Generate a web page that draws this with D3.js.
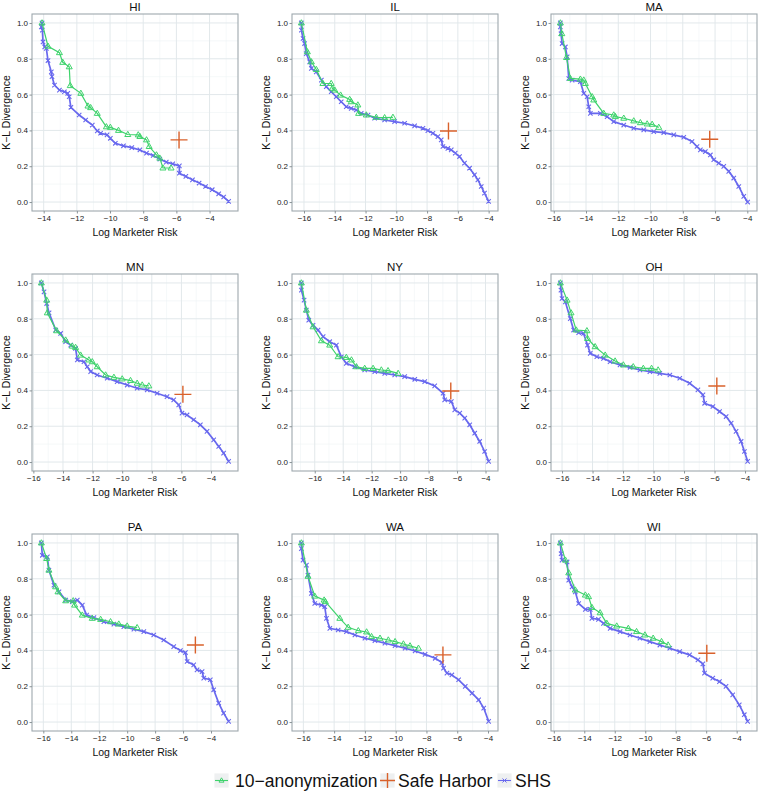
<!DOCTYPE html>
<html>
<head>
<meta charset="utf-8">
<script src="https://cdn.jsdelivr.net/npm/d3@7"></script>
<style>
  html, body { margin: 0; padding: 0; background: #fff; }
  svg { display: block; font-family: "Liberation Sans", Arial, Helvetica, sans-serif; }
</style>
</head>
<body>
<svg id="chart" width="758" height="793"></svg>
<script>
// ---------------- DATA ----------------
const states = ["HI", "IL", "MA", "MN", "NY", "OH", "PA", "WA", "WI"];
const seriesNames = ["10\u2212anonymization", "Safe Harbor", "SHS"];
const yTicks = [0.0, 0.2, 0.4, 0.6, 0.8, 1.0];

// Safe Harbor point per state (log marketer risk, K-L divergence)
const safeHarborX = [-5.84, -6.61, -6.33, -5.9, -6.44, -5.85, -5.12, -6.93, -5.96];
const safeHarborY = [0.347, 0.397, 0.351, 0.378, 0.397, 0.425, 0.43, 0.375, 0.384];

// 10-anonymization curves
const anonHI = [[-14.1,1.0],[-13.74,0.87],[-13.05,0.834],[-12.85,0.78],[-12.46,0.755],[-12.4,0.65],[-11.76,0.607],[-11.33,0.536],[-11.17,0.527],[-10.77,0.495],[-10.22,0.42],[-9.98,0.417],[-9.49,0.40],[-8.93,0.377],[-8.3,0.375],[-8.2,0.366],[-7.8,0.347],[-7.64,0.31],[-7.2,0.263],[-7.0,0.245],[-6.81,0.19],[-6.32,0.19]];
const anonIL = [[-16.17,1.0],[-15.78,0.839],[-15.52,0.783],[-15.2,0.74],[-14.77,0.662],[-14.23,0.662],[-14.16,0.635],[-14.0,0.625],[-13.62,0.597],[-13.03,0.573],[-12.93,0.56],[-12.5,0.542],[-12.45,0.495],[-11.95,0.486],[-11.3,0.473],[-10.76,0.471],[-10.22,0.473]];
const anonMA = [[-15.59,1.0],[-15.5,0.94],[-15.21,0.807],[-14.97,0.69],[-14.35,0.686],[-14.14,0.681],[-14.04,0.662],[-13.62,0.588],[-13.52,0.57],[-12.9,0.495],[-12.28,0.486],[-12.18,0.477],[-11.66,0.468],[-11.04,0.453],[-10.63,0.443],[-10.21,0.436],[-9.9,0.434],[-9.49,0.417]];
const anonMN = [[-15.46,1.0],[-15.1,0.904],[-15.06,0.833],[-14.43,0.733],[-13.82,0.681],[-13.37,0.647],[-13.15,0.64],[-12.81,0.597],[-12.25,0.57],[-12.02,0.56],[-11.69,0.532],[-11.12,0.486],[-10.56,0.473],[-10.0,0.464],[-9.44,0.455],[-8.99,0.44],[-8.65,0.43],[-8.2,0.425]];
const anonNY = [[-16.94,1.0],[-16.59,0.848],[-16.12,0.755],[-15.53,0.677],[-14.95,0.653],[-14.36,0.588],[-13.78,0.584],[-13.42,0.57],[-13.07,0.532],[-12.49,0.523],[-11.9,0.523],[-11.32,0.514],[-10.85,0.51],[-10.14,0.495]];
const anonOH = [[-16.11,1.0],[-15.67,0.904],[-15.41,0.833],[-15.07,0.737],[-14.37,0.733],[-14.33,0.69],[-13.83,0.644],[-13.17,0.597],[-12.52,0.564],[-11.98,0.542],[-11.33,0.532],[-10.67,0.523],[-10.13,0.523],[-9.7,0.514]];
const anonPA = [[-16.14,1.0],[-15.76,0.913],[-15.6,0.848],[-15.12,0.755],[-14.95,0.727],[-14.4,0.677],[-13.86,0.677],[-13.76,0.653],[-13.21,0.597],[-12.5,0.579],[-11.9,0.573],[-11.19,0.56],[-10.6,0.547],[-10.0,0.536],[-9.29,0.527]];
const anonWA = [[-16.13,1.0],[-15.7,0.814],[-15.26,0.703],[-14.65,0.681],[-14.57,0.672],[-13.63,0.579],[-13.09,0.529],[-12.43,0.51],[-11.89,0.503],[-11.57,0.477],[-11.02,0.468],[-10.48,0.458],[-10.04,0.449],[-9.5,0.436],[-9.07,0.425],[-8.52,0.412]];
const anonWI = [[-15.57,1.0],[-15.24,0.904],[-15.02,0.833],[-14.59,0.737],[-13.93,0.709],[-13.72,0.70],[-13.5,0.64],[-12.96,0.61],[-12.52,0.551],[-11.87,0.536],[-11.11,0.523],[-10.57,0.505],[-10.02,0.486],[-9.48,0.468],[-8.93,0.449],[-8.5,0.43]];

// SHS curves
const shsHI = [[-14.1,1.0],[-14.14,0.978],[-14.08,0.96],[-14.04,0.894],[-13.94,0.866],[-13.84,0.858],[-13.74,0.79],[-13.54,0.727],[-13.5,0.70],[-13.35,0.653],[-13.05,0.625],[-12.75,0.616],[-12.55,0.607],[-12.46,0.588],[-12.36,0.529],[-11.86,0.486],[-11.47,0.458],[-11.07,0.43],[-10.77,0.397],[-10.57,0.384],[-10.18,0.375],[-9.98,0.356],[-9.68,0.328],[-9.19,0.314],[-8.69,0.304],[-8.2,0.291],[-7.8,0.273],[-7.4,0.26],[-7.0,0.24],[-6.61,0.223],[-6.22,0.213],[-5.82,0.202],[-5.82,0.161],[-5.43,0.143],[-5.03,0.124],[-4.63,0.106],[-4.24,0.087],[-3.84,0.069],[-3.45,0.046],[-3.15,0.028],[-2.85,0.004]];
const shsIL = [[-16.17,1.0],[-16.17,0.96],[-16.06,0.913],[-15.96,0.885],[-15.85,0.829],[-15.63,0.783],[-15.52,0.746],[-15.2,0.727],[-14.87,0.681],[-14.55,0.644],[-14.23,0.616],[-13.9,0.588],[-13.58,0.56],[-13.25,0.532],[-12.93,0.523],[-12.6,0.514],[-12.28,0.495],[-11.84,0.486],[-11.41,0.468],[-10.76,0.458],[-10.11,0.449],[-9.46,0.44],[-8.81,0.425],[-8.27,0.412],[-7.95,0.399],[-7.62,0.384],[-7.3,0.365],[-7.08,0.347],[-6.97,0.31],[-6.65,0.30],[-6.43,0.291],[-6.17,0.273],[-5.89,0.254],[-5.57,0.217],[-5.24,0.189],[-4.92,0.152],[-4.7,0.124],[-4.48,0.087],[-4.27,0.05],[-4.0,0.004]];
const shsMA = [[-15.59,1.0],[-15.59,0.978],[-15.55,0.94],[-15.48,0.885],[-15.28,0.866],[-15.17,0.811],[-15.07,0.69],[-14.86,0.681],[-14.35,0.672],[-14.14,0.607],[-13.93,0.588],[-13.83,0.532],[-13.73,0.495],[-13.11,0.495],[-12.69,0.477],[-12.28,0.449],[-11.66,0.43],[-11.04,0.412],[-10.42,0.403],[-9.8,0.393],[-9.18,0.388],[-8.56,0.375],[-7.94,0.362],[-7.43,0.338],[-7.12,0.31],[-6.91,0.291],[-6.6,0.282],[-6.29,0.263],[-6.08,0.236],[-5.77,0.217],[-5.46,0.199],[-5.15,0.171],[-4.84,0.134],[-4.53,0.087],[-4.22,0.032],[-3.98,0.0]];
const shsMN = [[-15.46,1.0],[-15.28,0.95],[-15.1,0.885],[-14.94,0.833],[-14.49,0.737],[-14.16,0.718],[-13.82,0.672],[-13.48,0.653],[-13.15,0.635],[-13.03,0.57],[-12.58,0.56],[-12.36,0.532],[-12.13,0.505],[-11.69,0.486],[-11.01,0.468],[-10.34,0.449],[-9.66,0.43],[-8.99,0.412],[-8.31,0.403],[-7.64,0.384],[-6.97,0.365],[-6.52,0.347],[-6.18,0.319],[-5.96,0.273],[-5.62,0.263],[-5.17,0.236],[-4.72,0.208],[-4.27,0.171],[-3.82,0.124],[-3.48,0.087],[-3.15,0.05],[-2.81,0.004]];
const shsNY = [[-16.94,1.0],[-16.94,0.96],[-16.75,0.904],[-16.59,0.848],[-16.42,0.792],[-16.12,0.764],[-15.77,0.737],[-15.41,0.70],[-14.95,0.672],[-14.48,0.653],[-14.13,0.588],[-13.78,0.551],[-13.19,0.532],[-12.49,0.514],[-11.78,0.505],[-11.08,0.495],[-10.38,0.486],[-9.68,0.477],[-8.97,0.462],[-8.27,0.449],[-7.57,0.425],[-6.98,0.384],[-6.87,0.347],[-6.4,0.338],[-6.16,0.291],[-5.81,0.273],[-5.46,0.245],[-5.11,0.208],[-4.76,0.161],[-4.41,0.115],[-4.06,0.059],[-3.78,0.004]];
const shsOH = [[-16.11,1.0],[-16.07,0.96],[-16.0,0.913],[-15.78,0.894],[-15.46,0.801],[-15.24,0.737],[-14.91,0.722],[-14.59,0.718],[-14.33,0.653],[-14.15,0.607],[-13.72,0.588],[-13.28,0.579],[-12.85,0.56],[-12.2,0.542],[-11.54,0.529],[-10.89,0.514],[-10.24,0.505],[-9.59,0.495],[-8.93,0.486],[-8.28,0.468],[-7.63,0.44],[-7.09,0.403],[-6.76,0.375],[-6.65,0.328],[-6.11,0.31],[-5.67,0.282],[-5.24,0.254],[-4.91,0.217],[-4.59,0.171],[-4.26,0.115],[-4.04,0.059],[-3.83,0.004]];
const shsPA = [[-16.14,1.0],[-16.07,0.931],[-15.71,0.922],[-15.6,0.848],[-15.24,0.764],[-14.88,0.727],[-14.4,0.681],[-13.93,0.672],[-13.57,0.681],[-13.21,0.653],[-12.9,0.597],[-12.38,0.583],[-11.67,0.56],[-10.95,0.547],[-10.24,0.532],[-9.52,0.518],[-8.81,0.505],[-8.1,0.486],[-7.38,0.458],[-6.67,0.421],[-6.19,0.399],[-5.83,0.388],[-5.71,0.338],[-5.24,0.319],[-5.0,0.291],[-4.64,0.282],[-4.52,0.245],[-4.05,0.236],[-3.81,0.18],[-3.45,0.106],[-3.1,0.05],[-2.74,0.004]];
const shsWA = [[-16.13,1.0],[-16.13,0.968],[-16.02,0.904],[-15.8,0.876],[-15.7,0.82],[-15.48,0.718],[-15.26,0.662],[-14.83,0.653],[-14.61,0.644],[-14.5,0.579],[-14.28,0.523],[-13.74,0.514],[-13.2,0.505],[-12.65,0.486],[-12.0,0.468],[-11.35,0.455],[-10.7,0.44],[-10.04,0.427],[-9.39,0.412],[-8.74,0.397],[-8.09,0.378],[-7.43,0.356],[-7.0,0.332],[-6.89,0.301],[-6.67,0.273],[-6.35,0.263],[-5.91,0.236],[-5.48,0.199],[-5.04,0.161],[-4.61,0.124],[-4.28,0.078],[-3.96,0.004]];
const shsWI = [[-15.57,1.0],[-15.52,0.94],[-15.46,0.904],[-15.13,0.894],[-15.02,0.792],[-14.8,0.755],[-14.59,0.727],[-14.37,0.662],[-13.93,0.629],[-13.61,0.629],[-13.5,0.579],[-13.07,0.573],[-12.74,0.551],[-12.3,0.523],[-11.65,0.505],[-11.0,0.486],[-10.35,0.468],[-9.7,0.449],[-9.04,0.43],[-8.39,0.412],[-7.74,0.393],[-7.09,0.375],[-6.54,0.347],[-6.22,0.325],[-6.11,0.273],[-5.57,0.245],[-5.13,0.226],[-4.7,0.199],[-4.26,0.152],[-3.83,0.096],[-3.5,0.041],[-3.28,0.004]];

const anonData = [anonHI, anonIL, anonMA, anonMN, anonNY, anonOH, anonPA, anonWA, anonWI];
const shsData = [shsHI, shsIL, shsMA, shsMN, shsNY, shsOH, shsPA, shsWA, shsWI];

// ---------------- STYLE / LAYOUT ----------------
const colAnon = "#3ed36c";
const colSafe = "#d9612b";
const colShs = "#6868ee";
const gridMajor = "#e2e8eb";
const gridMinor = "#eff3f5";
const borderCol = "#9ea8ae";

const panelLefts = [32, 292, 551];
const panelTops = [14, 274, 534];
const pw = 206, ph = 197;

const svg = d3.select("#chart");

function trianglePath(x, y, s) {
  const h = s * 0.866;
  return `M${x},${y - h * 0.62}L${x + s / 2},${y + h * 0.38}L${x - s / 2},${y + h * 0.38}Z`;
}
function crossXPath(x, y, s) {
  const r = s / 2;
  return `M${x - r},${y - r}L${x + r},${y + r}M${x - r},${y + r}L${x + r},${y - r}`;
}
function plusPath(x, y, s) {
  const r = s / 2;
  return `M${x - r},${y}L${x + r},${y}M${x},${y - r}L${x},${y + r}`;
}

states.forEach((st, i) => {
  const left = panelLefts[i % 3], top = panelTops[Math.floor(i / 3)];
  const anon = anonData[i], shs = shsData[i];
  const allX = anon.map(d => d[0]).concat(shs.map(d => d[0]), [safeHarborX[i]]);
  const [mn, mx] = d3.extent(allX);
  const pad = (mx - mn) * 0.05;
  const x = d3.scaleLinear().domain([mn - pad, mx + pad]).range([left, left + pw]);
  const y = d3.scaleLinear().domain([-0.05, 1.05]).range([top + ph, top]);

  const g = svg.append("g");
  g.append("rect").attr("x", left).attr("y", top).attr("width", pw).attr("height", ph).attr("fill", "#fff");

  const [d0, d1] = x.domain();
  const majorX = d3.range(Math.ceil(d0 / 2) * 2, d1 + 1e-9, 2);
  const minorX = d3.range(Math.ceil(d0), d1 + 1e-9, 1).filter(v => Math.abs(v % 2) === 1);
  const minorY = [0.1, 0.3, 0.5, 0.7, 0.9];

  g.selectAll(".gminx").data(minorX).join("line")
    .attr("x1", d => x(d)).attr("x2", d => x(d)).attr("y1", top).attr("y2", top + ph)
    .attr("stroke", gridMinor).attr("stroke-width", 0.6);
  g.selectAll(".gminy").data(minorY).join("line")
    .attr("x1", left).attr("x2", left + pw).attr("y1", d => y(d)).attr("y2", d => y(d))
    .attr("stroke", gridMinor).attr("stroke-width", 0.6);
  g.selectAll(".gmajx").data(majorX).join("line")
    .attr("x1", d => x(d)).attr("x2", d => x(d)).attr("y1", top).attr("y2", top + ph)
    .attr("stroke", gridMajor).attr("stroke-width", 1);
  g.selectAll(".gmajy").data(yTicks).join("line")
    .attr("x1", left).attr("x2", left + pw).attr("y1", d => y(d)).attr("y2", d => y(d))
    .attr("stroke", gridMajor).attr("stroke-width", 1);

  const line = d3.line().x(d => x(d[0])).y(d => y(d[1]));

  // SHS
  g.append("path").datum(shs).attr("d", line).attr("fill", "none")
    .attr("stroke", colShs).attr("stroke-width", 1.7);
  g.append("path")
    .attr("d", shs.map(d => crossXPath(x(d[0]), y(d[1]), 4.4)).join(""))
    .attr("fill", "none").attr("stroke", colShs).attr("stroke-width", 1.1);

  // 10-anonymization
  g.append("path").datum(anon).attr("d", line).attr("fill", "none")
    .attr("stroke", colAnon).attr("stroke-width", 1.2);
  g.append("path")
    .attr("d", anon.map(d => trianglePath(x(d[0]), y(d[1]), 6)).join(""))
    .attr("fill", "none").attr("stroke", colAnon).attr("stroke-width", 1);

  // Safe Harbor
  g.append("path")
    .attr("d", plusPath(x(safeHarborX[i]), y(safeHarborY[i]), 17))
    .attr("fill", "none").attr("stroke", colSafe).attr("stroke-width", 1.4);

  // border
  g.append("rect").attr("x", left).attr("y", top).attr("width", pw).attr("height", ph)
    .attr("fill", "none").attr("stroke", borderCol).attr("stroke-width", 1.1);

  // axes
  const xAxis = d3.axisBottom(x).tickValues(majorX).tickSize(2.5).tickPadding(1.5)
    .tickFormat(d => d < 0 ? "\u2212" + Math.abs(d) : d);
  const gx = g.append("g").attr("transform", `translate(0,${top + ph})`).call(xAxis);
  const yAxis = d3.axisLeft(y).tickValues(yTicks).tickSize(2.5).tickPadding(1.5)
    .tickFormat(d3.format(".1f"));
  const gy = g.append("g").attr("transform", `translate(${left},0)`).call(yAxis);
  [gx, gy].forEach(a => {
    a.select(".domain").remove();
    a.selectAll(".tick line").attr("stroke", "#8a9397");
    a.selectAll(".tick text").attr("fill", "#222").style("font-size", "8px")
      .style("font-family", "'Liberation Sans', Arial, sans-serif");
  });

  // titles
  g.append("text").attr("x", left + pw / 2).attr("y", top - 3.5).attr("text-anchor", "middle")
    .style("font-size", "11.5px").style("font-weight", "normal").attr("fill", "#111").text(st);
  g.append("text").attr("x", left + pw / 2).attr("y", top + ph + 25).attr("text-anchor", "middle")
    .style("font-size", "10.5px").attr("fill", "#111").text("Log Marketer Risk");
  g.append("text").attr("transform", `translate(${left - 22},${top + ph / 2}) rotate(-90)`)
    .attr("text-anchor", "middle").style("font-size", "10.5px").attr("fill", "#111")
    .text("K\u2212L Divergence");
});

// ---------------- LEGEND ----------------
const legendItems = [
  { name: seriesNames[0], keyX: 214, textX: 235 },
  { name: seriesNames[1], keyX: 380, textX: 398 },
  { name: seriesNames[2], keyX: 497, textX: 515 }
];
const ky = 773, ks = 15;
const lg = svg.append("g");
legendItems.forEach((it, k) => {
  lg.append("rect").attr("x", it.keyX).attr("y", ky).attr("width", ks).attr("height", ks)
    .attr("fill", "#eef0f1").attr("stroke", "#fff").attr("stroke-width", 0.8);
  const cx = it.keyX + ks / 2, cy = ky + ks / 2;
  if (k === 0) {
    lg.append("line").attr("x1", it.keyX + 1).attr("x2", it.keyX + ks - 1).attr("y1", cy).attr("y2", cy)
      .attr("stroke", colAnon).attr("stroke-width", 1.1);
    lg.append("path").attr("d", trianglePath(cx, cy, 5)).attr("fill", "none").attr("stroke", colAnon);
  } else if (k === 1) {
    lg.append("path").attr("d", plusPath(cx, cy, ks)).attr("fill", "none").attr("stroke", colSafe).attr("stroke-width", 1.4);
  } else {
    lg.append("line").attr("x1", it.keyX + 1).attr("x2", it.keyX + ks - 1).attr("y1", cy).attr("y2", cy)
      .attr("stroke", colShs).attr("stroke-width", 1.1);
    lg.append("path").attr("d", crossXPath(cx, cy, 4)).attr("fill", "none").attr("stroke", colShs);
  }
  lg.append("text").attr("x", it.textX).attr("y", cy + 6.2).style("font-size", "17.5px").attr("fill", "#111")
    .text(it.name);
});
</script>
</body>
</html>
